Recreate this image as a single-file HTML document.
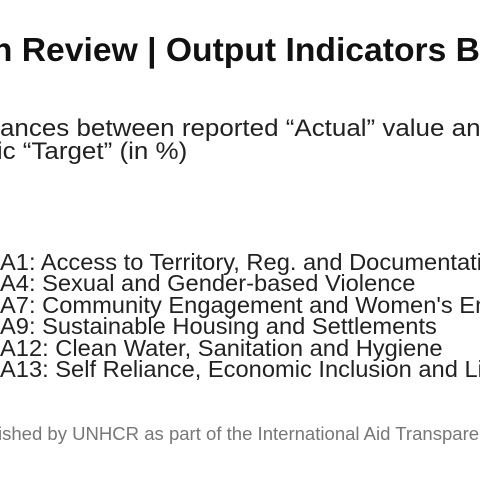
<!DOCTYPE html>
<html><head><meta charset="utf-8"><style>
html,body{margin:0;padding:0;background:#fff;width:480px;height:480px;overflow:hidden}
svg{display:block}
text{font-family:"Liberation Sans",sans-serif}
</style></head><body>
<svg width="480" height="480" viewBox="0 0 480 480">
<g transform="scale(1.02,1)">
<text x="-8" y="61" font-size="33" font-weight="bold" fill="#111">n Review | Output Indicators B</text>
</g>
<g transform="scale(1.06,1)">
<text x="0" y="136" font-size="24.5" fill="#222">ances between reported “Actual” value an</text>
<text x="-3" y="159" font-size="24.5" fill="#222">ic “Target” (in %)</text>
</g>
<g transform="scale(1.03,1)" font-size="23" fill="#222">
<text x="0" y="270">A1: Access to Territory, Reg. and Documentation</text>
<text x="0" y="291">A4: Sexual and Gender-based Violence</text>
<text x="0" y="313">A7: Community Engagement and Women's Empowerment</text>
<text x="0" y="334">A9: Sustainable Housing and Settlements</text>
<text x="0" y="356">A12: Clean Water, Sanitation and Hygiene</text>
<text x="0" y="377">A13: Self Reliance, Economic Inclusion and Livelihoods</text>
</g>
<g transform="scale(1.03,1)">
<text x="-38" y="440" font-size="18" fill="#777">Published by UNHCR as part of the International Aid Transparency Initiative</text>
</g>
</svg>
</body></html>
